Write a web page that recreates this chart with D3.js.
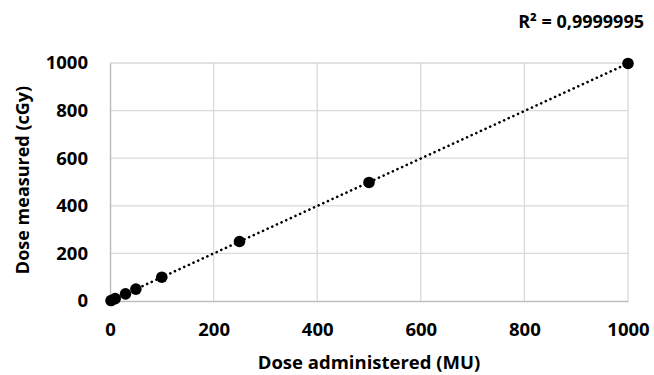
<!DOCTYPE html>
<html>
<head>
<meta charset="utf-8">
<script src="https://cdn.jsdelivr.net/npm/d3@7"></script>
<style>
  body { margin: 0; background: #fff; }
  text { font-family: "Open Sans", "Noto Sans", sans-serif; font-weight: bold; fill: #000; }
</style>
</head>
<body>
<svg id="chart" width="654" height="375"></svg>
<script>
// values
const administered = [2, 10, 30, 50, 100, 250, 500, 1000];
const measured = [2, 10, 30, 50, 100, 250, 498, 998];
const xTicks = [0, 200, 400, 600, 800, 1000];
const yTicks = [0, 200, 400, 600, 800, 1000];
const r2Label = "R² = 0,9999995";

const W = 654, H = 375;
const margin = {top: 63, right: 26, bottom: 74, left: 110};

const svg = d3.select("#chart");

const x = d3.scaleLinear()
    .domain([0, 1000])
    .range([margin.left, W - margin.right]);
const y = d3.scaleLinear()
    .domain([0, 1000])
    .range([H - margin.bottom, margin.top]);

// gridlines
svg.append("g")
    .selectAll("line.gx")
    .data(xTicks.slice(1))
    .join("line")
    .attr("x1", d => x(d)).attr("x2", d => x(d))
    .attr("y1", y(0)).attr("y2", y(1000))
    .attr("stroke", "#d9d9d9").attr("stroke-width", 1.3);
svg.append("g")
    .selectAll("line.gy")
    .data(yTicks.slice(1))
    .join("line")
    .attr("x1", x(0)).attr("x2", x(1000))
    .attr("y1", d => y(d)).attr("y2", d => y(d))
    .attr("stroke", "#d9d9d9").attr("stroke-width", 1.3);

// axes
const xAxis = svg.append("g")
    .attr("transform", `translate(0,${y(0)})`)
    .call(d3.axisBottom(x).tickValues(xTicks).tickFormat(d3.format("d")).tickSize(0).tickPadding(22));
const yAxis = svg.append("g")
    .attr("transform", `translate(${x(0)},0)`)
    .call(d3.axisLeft(y).tickValues(yTicks).tickFormat(d3.format("d")).tickSize(0).tickPadding(22));
[xAxis, yAxis].forEach(a => {
    a.select(".domain").attr("stroke", "#bfbfbf").attr("stroke-width", 1.5);
    a.selectAll("text").style("font-size", "18.5px").style("font-family", "'Open Sans', sans-serif")
        .style("font-weight", "bold").attr("fill", "#000");
});

// trend line
svg.append("line")
    .attr("x1", x(0)).attr("y1", y(0))
    .attr("x2", x(1000)).attr("y2", y(998))
    .attr("stroke", "#000")
    .attr("stroke-width", 2.6)
    .attr("stroke-linecap", "round")
    .attr("stroke-dasharray", "0.1,5");

// points
svg.append("g")
    .selectAll("circle")
    .data(administered)
    .join("circle")
    .attr("cx", d => x(d))
    .attr("cy", (d, i) => y(measured[i]))
    .attr("r", 5.8)
    .attr("fill", "#000");

// labels
svg.append("text")
    .attr("x", x(500)).attr("y", 369)
    .attr("text-anchor", "middle")
    .style("font-size", "18.5px")
    .text("Dose administered (MU)");
svg.append("text")
    .attr("transform", `translate(29,${y(500) - 2}) rotate(-90)`)
    .attr("text-anchor", "middle")
    .style("font-size", "18px")
    .text("Dose measured (cGy)");
svg.append("text")
    .attr("x", 644).attr("y", 28)
    .attr("text-anchor", "end")
    .style("font-size", "18px")
    .text(r2Label);
</script>
</body>
</html>
